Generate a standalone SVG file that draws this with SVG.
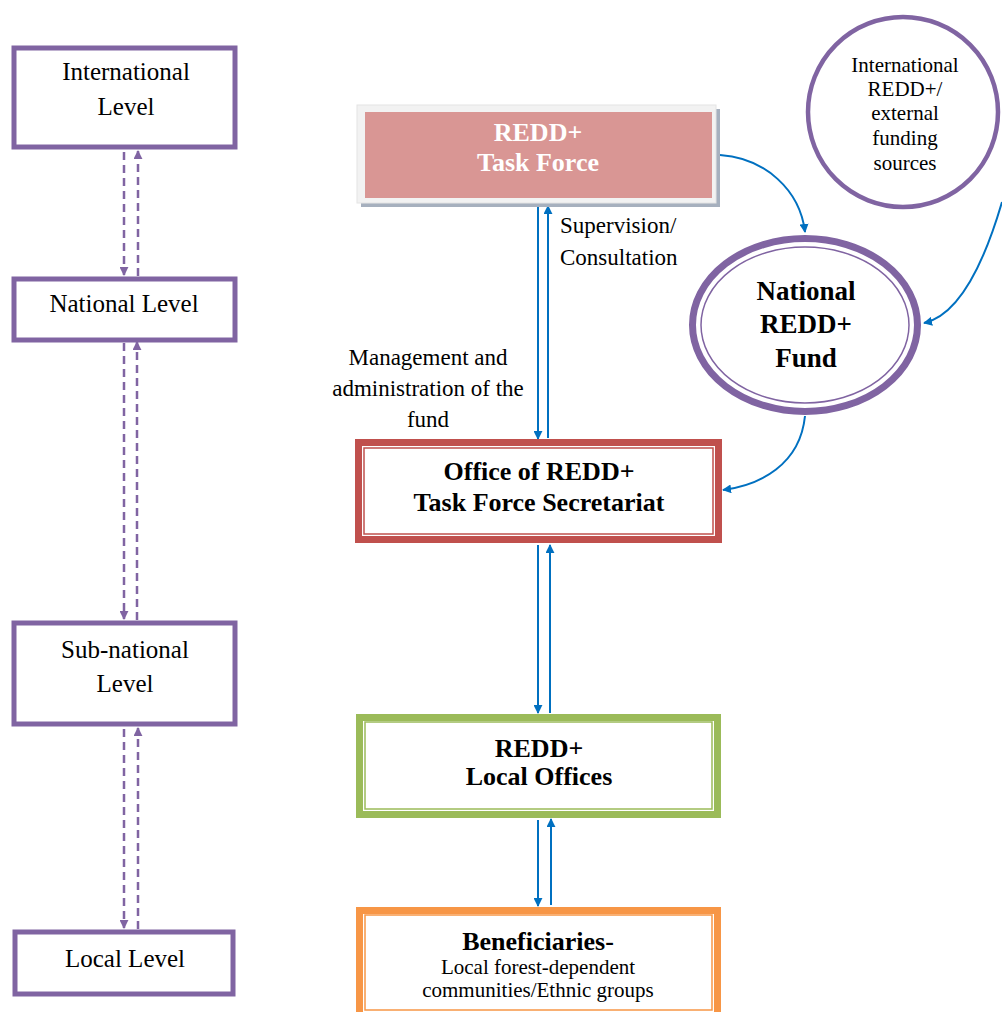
<svg xmlns="http://www.w3.org/2000/svg" width="1002" height="1012" viewBox="0 0 1002 1012">
<defs>
<style>
.lvl{fill:#fff;stroke:#8064A2;stroke-width:5}
.t{font-family:"Liberation Serif",serif;fill:#000;text-anchor:middle}
.s{text-anchor:start}
.b{font-weight:bold}
.dash{stroke:#8064A2;stroke-width:2.5;stroke-dasharray:8,5;fill:none}
.blue{stroke:#0070C0;stroke-width:2;fill:none}
</style>
<marker id="pa" viewBox="0 0 10 10" refX="9" refY="5" markerWidth="9" markerHeight="9" orient="auto" markerUnits="userSpaceOnUse"><path d="M0,0 L10,5 L0,10 z" fill="#8064A2"/></marker>
<marker id="ba" viewBox="0 0 10 10" refX="9" refY="5" markerWidth="9" markerHeight="9" orient="auto" markerUnits="userSpaceOnUse"><path d="M0,0 L10,5 L0,10 z" fill="#0070C0"/></marker>
</defs>
<rect width="1002" height="1012" fill="#fff"/>

<g id="connectors">
<line class="dash" x1="124" y1="152" x2="124" y2="275" marker-end="url(#pa)"/>
<line class="dash" x1="138" y1="276" x2="138" y2="151" marker-end="url(#pa)"/>
<line class="dash" x1="124" y1="343" x2="124" y2="619" marker-end="url(#pa)"/>
<line class="dash" x1="137" y1="620" x2="137" y2="342" marker-end="url(#pa)"/>
<line class="dash" x1="124" y1="729" x2="124" y2="928" marker-end="url(#pa)"/>
<line class="dash" x1="138" y1="929" x2="138" y2="728" marker-end="url(#pa)"/>

<line class="blue" x1="538" y1="207" x2="538" y2="439" marker-end="url(#ba)"/>
<line class="blue" x1="548" y1="438" x2="548" y2="206" marker-end="url(#ba)"/>
<line class="blue" x1="538" y1="545" x2="538" y2="713" marker-end="url(#ba)"/>
<line class="blue" x1="550" y1="713" x2="550" y2="545" marker-end="url(#ba)"/>
<line class="blue" x1="538" y1="820" x2="538" y2="906" marker-end="url(#ba)"/>
<line class="blue" x1="551" y1="905" x2="551" y2="819" marker-end="url(#ba)"/>

<path class="blue" d="M720,155 C765,158 800,190 805,232" marker-end="url(#ba)"/>
<path class="blue" d="M1002,202 C985,260 960,315 924,323" marker-end="url(#ba)"/>
<path class="blue" d="M805,416 C800,465 760,485 723,490" marker-end="url(#ba)"/>
</g>

<g id="international-level">
<rect class="lvl" x="14" y="48" width="221" height="99"/>
<text class="t" x="126" y="80" font-size="25">International</text>
<text class="t" x="126" y="115" font-size="25">Level</text>
</g>
<g id="national-level">
<rect class="lvl" x="14" y="279" width="221" height="61"/>
<text class="t" x="124" y="312" font-size="25">National Level</text>
</g>
<g id="subnational-level">
<rect class="lvl" x="14" y="623" width="221" height="101"/>
<text class="t" x="125" y="658" font-size="25">Sub-national</text>
<text class="t" x="125" y="692" font-size="25">Level</text>
</g>
<g id="local-level">
<rect class="lvl" x="15" y="932" width="218" height="62"/>
<text class="t" x="125" y="967" font-size="25">Local Level</text>
</g>

<g id="task-force">
<rect x="361" y="109" width="359" height="98" fill="#A6B0BE"/>
<rect x="357" y="105" width="359" height="98" fill="#F2F2F2" stroke="#E4E4E4" stroke-width="1"/>
<rect x="365" y="112" width="347" height="86" fill="#D99694"/>
<text class="t b" x="538" y="141" font-size="26" style="fill:#fff">REDD+</text>
<text class="t b" x="538" y="171" font-size="26" style="fill:#fff">Task Force</text>
</g>

<g id="secretariat">
<rect x="358.5" y="442.5" width="360" height="97" fill="#fff" stroke="#C0504D" stroke-width="7"/>
<rect x="364" y="448" width="349" height="86" fill="none" stroke="#C0504D" stroke-width="1.5"/>
<text class="t b" x="539" y="480" font-size="26">Office of REDD+</text>
<text class="t b" x="539" y="511" font-size="26">Task Force Secretariat</text>
</g>

<g id="local-offices">
<rect x="359.5" y="717.5" width="358" height="97" fill="#fff" stroke="#9BBB59" stroke-width="7"/>
<rect x="365" y="722" width="347" height="87" fill="none" stroke="#9BBB59" stroke-width="1.5"/>
<text class="t b" x="539" y="757" font-size="26">REDD+</text>
<text class="t b" x="539" y="785" font-size="26">Local Offices</text>
</g>

<g id="beneficiaries">
<rect x="359.5" y="910.5" width="358" height="110" fill="#fff" stroke="#F79646" stroke-width="7"/>
<rect x="365" y="915" width="347" height="95" fill="none" stroke="#F79646" stroke-width="1.5"/>
<text class="t b" x="538" y="950" font-size="26">Beneficiaries-</text>
<text class="t" x="538" y="974" font-size="21">Local forest-dependent</text>
<text class="t" x="538" y="997" font-size="21">communities/Ethnic groups</text>
</g>

<g id="international-funding">
<circle cx="903" cy="112" r="95" fill="#fff" stroke="#8064A2" stroke-width="4.5"/>
<text class="t" x="905" y="72" font-size="21">International</text>
<text class="t" x="905" y="96" font-size="21">REDD+/</text>
<text class="t" x="905" y="120" font-size="21">external</text>
<text class="t" x="905" y="145" font-size="21">funding</text>
<text class="t" x="905" y="170" font-size="21">sources</text>
</g>

<g id="national-fund">
<ellipse cx="805" cy="325" rx="112.5" ry="86.5" fill="#fff" stroke="#8064A2" stroke-width="7"/>
<ellipse cx="805" cy="325" rx="104" ry="78" fill="none" stroke="#8064A2" stroke-width="1.5"/>
<text class="t b" x="806" y="300" font-size="27">National</text>
<text class="t b" x="806" y="333" font-size="27">REDD+</text>
<text class="t b" x="806" y="367" font-size="27">Fund</text>
</g>

<g id="labels">
<text class="t s" x="560" y="233" font-size="23" style="text-anchor:start">Supervision/</text>
<text class="t s" x="560" y="265" font-size="23" style="text-anchor:start">Consultation</text>
<text class="t" x="428" y="365" font-size="23">Management and</text>
<text class="t" x="428" y="396" font-size="23">administration of the</text>
<text class="t" x="428" y="427" font-size="23">fund</text>
</g>
</svg>
